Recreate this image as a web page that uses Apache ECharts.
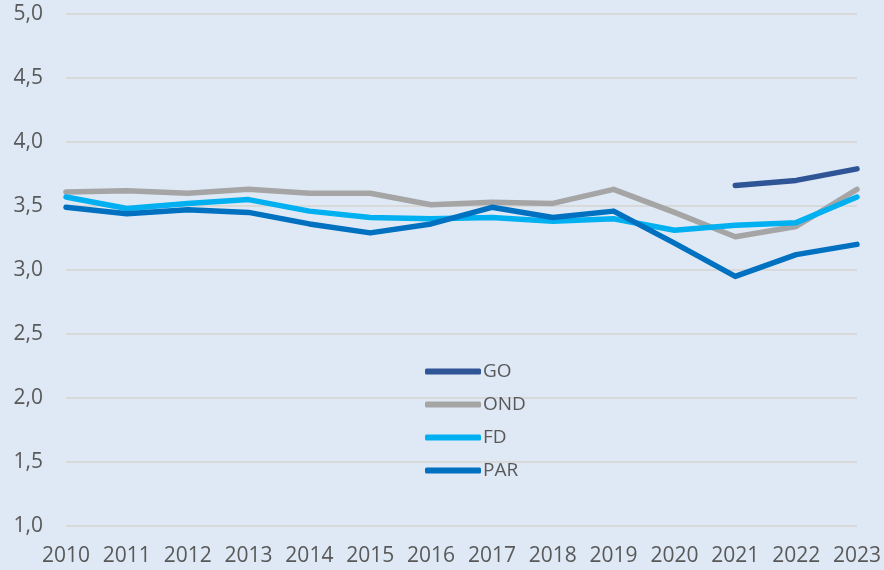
<!DOCTYPE html>
<html>
<head>
<meta charset="utf-8">
<script src="https://cdn.jsdelivr.net/npm/echarts@6/dist/echarts.min.js"></script>
<style>
  html, body { margin: 0; padding: 0; background: #dee9f5; }
  #main { width: 884px; height: 570px; }
</style>
</head>
<body>
<div id="main"></div>
<script>
// years on the x axis
const years = ['2010', '2011', '2012', '2013', '2014', '2015', '2016',
  '2017', '2018', '2019', '2020', '2021', '2022', '2023'];

const go = [null, null, null, null, null, null, null, null, null, null, null, 3.66, 3.70, 3.79];
const ond = [3.61, 3.62, 3.60, 3.63, 3.60, 3.60, 3.51, 3.53, 3.52, 3.63, 3.45, 3.26, 3.34, 3.63];
const fd = [3.57, 3.48, 3.52, 3.55, 3.46, 3.41, 3.40, 3.41, 3.38, 3.40, 3.31, 3.35, 3.37, 3.57];
const par = [3.49, 3.44, 3.47, 3.45, 3.36, 3.29, 3.36, 3.49, 3.41, 3.46, 3.21, 2.95, 3.12, 3.20];

const font = '"Open Sans", sans-serif';
const textColor = '#595959';

function line(name, data, color) {
  return {
    name: name,
    type: 'line',
    data: data,
    showSymbol: false,
    symbol: 'none',
    lineStyle: { width: 5.5, color: color, cap: 'round', join: 'round' },
    itemStyle: { color: color }
  };
}

const chart = echarts.init(document.getElementById('main'));
chart.setOption({
  backgroundColor: '#dee9f5',
  animation: false,
  grid: { left: 66, right: 23, top: 14, bottom: 44 },
  legend: {
    orient: 'vertical',
    left: 420,
    top: 357,
    itemWidth: 56,
    itemHeight: 6,
    itemGap: 14,
    icon: 'roundRect',
    textStyle: { fontFamily: font, fontSize: 19, color: textColor, lineHeight: 18, padding: [0, 0, 0, -3] },
    data: ['GO', 'OND', 'FD', 'PAR']
  },
  xAxis: {
    type: 'category',
    data: years,
    boundaryGap: false,
    axisLine: { show: false },
    axisTick: { show: false },
    axisLabel: { fontFamily: font, fontSize: 21, color: textColor, margin: 20, interval: 0 }
  },
  yAxis: {
    type: 'value',
    min: 1,
    max: 5,
    interval: 0.5,
    axisLine: { show: false },
    axisTick: { show: false },
    splitLine: { lineStyle: { color: '#d9d9d9', width: 2 } },
    axisLabel: {
      fontFamily: font, fontSize: 21, color: textColor, margin: 23,
      formatter: v => v.toFixed(1).replace('.', ',')
    }
  },
  series: [
    line('GO', go, '#2f5597'),
    line('OND', ond, '#a5a5a5'),
    line('FD', fd, '#00b0f0'),
    line('PAR', par, '#0070c0')
  ]
});
</script>
</body>
</html>
